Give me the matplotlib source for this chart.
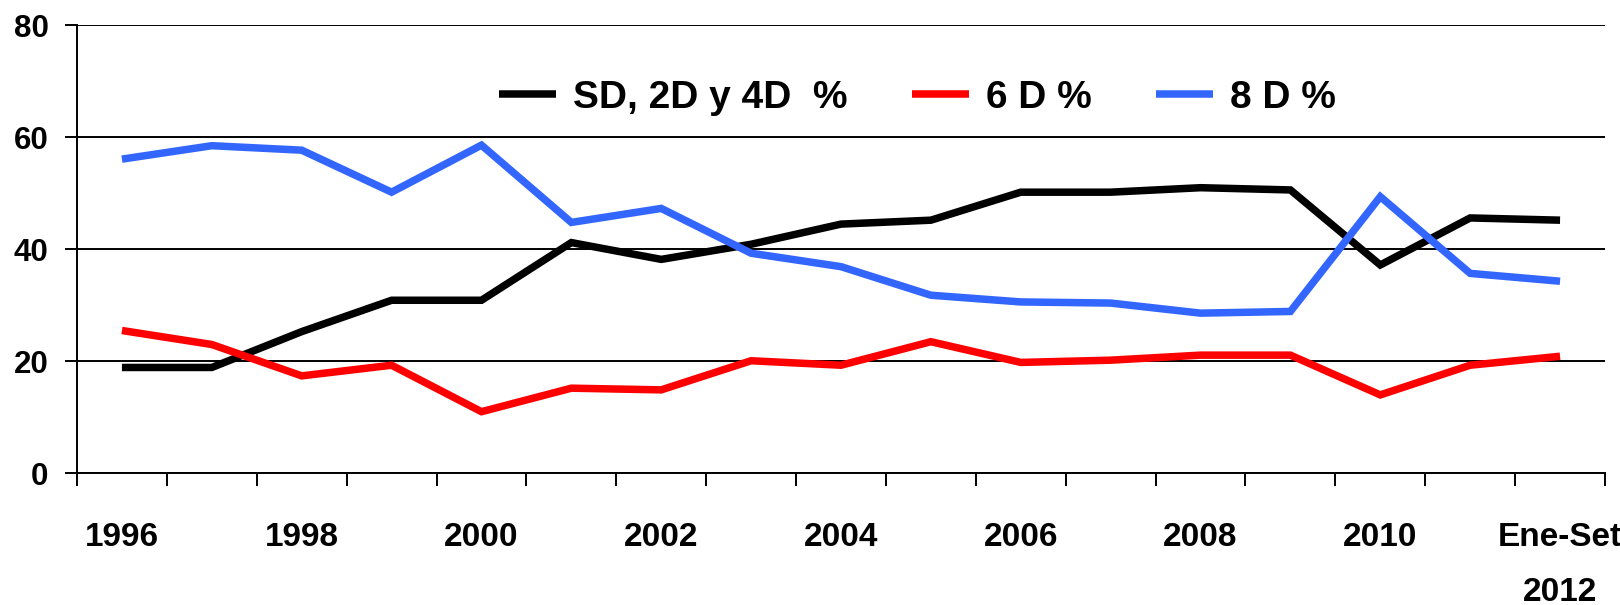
import numpy as np
import matplotlib
matplotlib.use("Agg")
import matplotlib.pyplot as plt
from matplotlib.ticker import FixedLocator, NullFormatter

# categories on the x axis
years = ['1996', '1997', '1998', '1999', '2000', '2001', '2002', '2003', '2004',
         '2005', '2006', '2007', '2008', '2009', '2010', '2011', 'Ene-Set\n2012']

# series values (%)
sd_2d_4d = [18.9, 18.9, 25.3, 30.9, 30.9, 41.2, 38.2, 40.9, 44.5,
            45.2, 50.2, 50.2, 51.0, 50.6, 37.2, 45.6, 45.2]
d6 = [25.5, 23.0, 17.4, 19.3, 11.0, 15.2, 14.9, 20.1, 19.3,
      23.5, 19.8, 20.2, 21.1, 21.1, 14.0, 19.3, 20.9]
d8 = [56.1, 58.5, 57.7, 50.2, 58.6, 44.8, 47.3, 39.3, 36.9,
      31.8, 30.6, 30.4, 28.6, 28.9, 49.4, 35.7, 34.3]

series_names = ['SD, 2D y 4D  %', '6 D %', '8 D %']
series_colors = ['#000000', '#FF0000', '#3366FF']

plt.rcParams['font.family'] = ['Liberation Sans', 'DejaVu Sans']
plt.rcParams['font.weight'] = 'bold'

fig = plt.figure(figsize=(16.2, 6.05), dpi=100)
ax = fig.add_axes([77 / 1620, 1 - 473.3 / 605, (1605 - 77) / 1620, (473.3 - 25.3) / 605])

x = np.arange(len(years))
for vals, name, col in zip([sd_2d_4d, d6, d8], series_names, series_colors):
    ax.plot(x, vals, color=col, lw=5.4, label=name, solid_joinstyle='miter',
            solid_capstyle='butt', zorder=3)

ax.set_xlim(-0.5, len(years) - 0.5)
ax.set_ylim(0, 80)

# y axis
ax.set_yticks([0, 20, 40, 60, 80])
ax.tick_params(axis='y', which='major', length=8.6, width=1.4, pad=12, labelsize=22.5)
ax.grid(axis='y', color='black', lw=1.4, zorder=1)

# x axis: tick marks between categories, labels every other category
ax.xaxis.set_major_locator(FixedLocator(np.arange(-0.5, len(years), 1.0)))
ax.xaxis.set_major_formatter(NullFormatter())
ax.xaxis.set_minor_locator(FixedLocator(x[::2]))
ax.set_xticklabels([years[i] for i in x[::2]], minor=True, linespacing=2.0)
ax.tick_params(axis='x', which='minor', length=0, pad=35, labelsize=24)
ax.tick_params(axis='x', which='major', length=9.5, width=1.4)

for s in ['top', 'right']:
    ax.spines[s].set_visible(False)
for s in ['left', 'bottom']:
    ax.spines[s].set_linewidth(1.4)

ax.legend(loc='center', bbox_to_anchor=(0.55, 0.838), ncol=3, frameon=False,
          fontsize=28, handlelength=1.47, handletextpad=0.44, columnspacing=1.65)

fig.savefig('out.png', dpi=100)
